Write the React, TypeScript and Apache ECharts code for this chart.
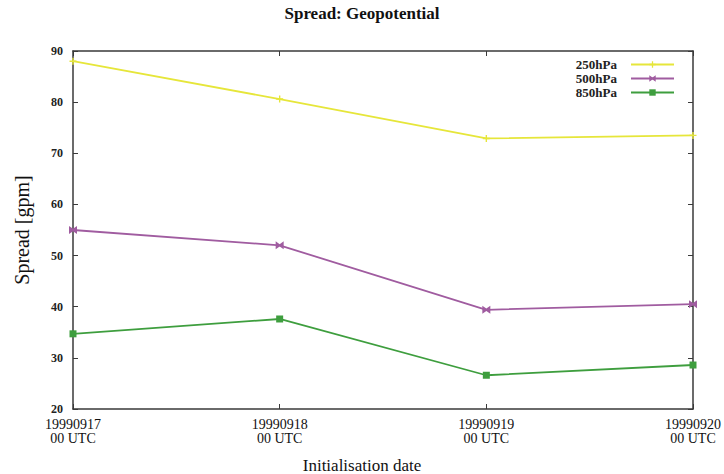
import React, { useEffect, useRef } from "react";
import * as echarts from "echarts";

const dates = ["19990917\n00 UTC", "19990918\n00 UTC", "19990919\n00 UTC", "19990920\n00 UTC"];
const seriesNames = ["250hPa", "500hPa", "850hPa"];
const hpa250 = [88.0, 80.6, 72.9, 73.5];
const hpa500 = [55.0, 52.0, 39.4, 40.5];
const hpa850 = [34.7, 37.6, 26.6, 28.6];
const yTicks = { min: 20, max: 90, interval: 10 };

const FONT = "'Liberation Serif', 'DejaVu Serif', serif";
const AXIS_COLOR = "#3a3a3a";

// Marker outlines: a plus, a bow-tie cross and a filled square
const PLUS = "path://M4,0H6V4H10V6H6V10H4V6H0V4H4Z";
const CROSS = "path://M0,0L5,3.5L10,0V10L5,6.5L0,10Z";

export default function App() {
  const ref = useRef<HTMLDivElement>(null);

  useEffect(() => {
    if (!ref.current) return;
    const chart = echarts.init(ref.current, undefined, { renderer: "svg" });

    const mkSeries = (name: string, data: number[], color: string, symbol: string, size: number, width: number) => ({
      name,
      type: "line",
      data,
      symbol,
      symbolSize: size,
      showAllSymbol: true,
      lineStyle: { color, width },
      itemStyle: { color },
      emphasis: { disabled: true },
    });

    chart.setOption({
      animation: false,
      backgroundColor: "#ffffff",
      title: {
        text: "Spread: Geopotential",
        left: "center",
        top: 0,
        textStyle: { fontFamily: FONT, fontSize: 17, fontWeight: "bold", color: "#111" },
      },
      legend: {
        orient: "vertical",
        right: 44,
        top: 53,
        align: "right",
        itemWidth: 43,
        itemHeight: 8,
        itemGap: 1,
        data: seriesNames,
        textStyle: {
          fontFamily: FONT,
          fontSize: 13,
          fontWeight: "bold",
          color: "#222",
          lineHeight: 13,
          padding: [0, 9, 0, 0],
        },
      },
      grid: { left: 73, right: 25, top: 51, bottom: 65, containLabel: false },
      graphic: [
        {
          type: "text",
          left: "center",
          top: 457,
          style: { text: "Initialisation date", font: `17px ${FONT}`, fill: "#111" },
        },
      ],
      xAxis: [
        {
          type: "category",
          data: dates,
          boundaryGap: false,
          axisLine: { lineStyle: { color: AXIS_COLOR, width: 1.5 } },
          axisTick: { inside: true, length: 5, lineStyle: { color: AXIS_COLOR } },
          axisLabel: {
            fontFamily: FONT,
            fontSize: 14,
            color: "#111",
            lineHeight: 14,
            margin: 8,
          },
          splitLine: { show: false },
        },
        {
          type: "category",
          data: dates,
          boundaryGap: false,
          position: "top",
          axisLine: { lineStyle: { color: AXIS_COLOR, width: 1.5 } },
          axisTick: { inside: true, length: 5, lineStyle: { color: AXIS_COLOR } },
          axisLabel: { show: false },
          splitLine: { show: false },
        },
      ],
      yAxis: [
        {
          type: "value",
          min: yTicks.min,
          max: yTicks.max,
          interval: yTicks.interval,
          axisLine: { show: true, lineStyle: { color: AXIS_COLOR, width: 1.5 } },
          axisTick: { show: true, inside: true, length: 5, lineStyle: { color: AXIS_COLOR } },
          axisLabel: { fontFamily: FONT, fontSize: 12, fontWeight: "bold", color: "#222", margin: 10 },
          splitLine: { show: false },
          name: "Spread [gpm]",
          nameLocation: "middle",
          nameGap: 41,
          nameTextStyle: { fontFamily: FONT, fontSize: 20, color: "#111" },
        },
        {
          type: "value",
          min: yTicks.min,
          max: yTicks.max,
          interval: yTicks.interval,
          position: "right",
          axisLine: { show: true, lineStyle: { color: AXIS_COLOR, width: 1.5 } },
          axisTick: { show: true, inside: true, length: 5, lineStyle: { color: AXIS_COLOR } },
          axisLabel: { show: false },
          splitLine: { show: false },
        },
      ],
      series: [
        mkSeries(seriesNames[0], hpa250, "#e6e63a", PLUS, 7, 1.8),
        mkSeries(seriesNames[1], hpa500, "#a05ca0", CROSS, 8, 1.8),
        mkSeries(seriesNames[2], hpa850, "#3e9e3e", "rect", 7, 1.8),
      ],
    });

    return () => chart.dispose();
  }, []);

  return <div ref={ref} style={{ width: 724, height: 474, position: "absolute", left: 0, top: 0 }} />;
}
